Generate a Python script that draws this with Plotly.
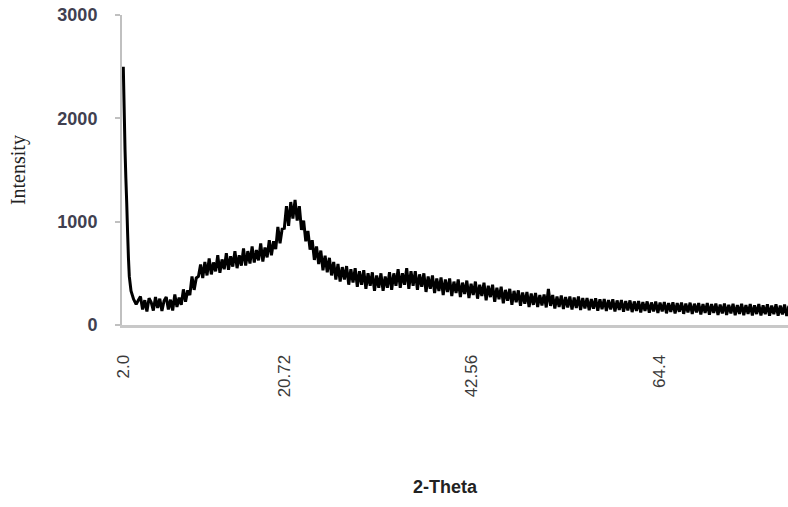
import plotly.graph_objects as go

# 2-Theta sample positions (degrees)
two_theta = [
    2.0, 2.1, 2.2, 2.3, 2.4, 2.5, 2.6, 2.7, 2.9, 3.2, 3.5, 3.75,
    4.0, 4.25, 4.5, 4.75, 5.0, 5.25, 5.5, 5.75,
    6.0, 6.25, 6.5, 6.75, 7.0, 7.25, 7.5, 7.75,
    8.0, 8.25, 8.5, 8.75, 9.0, 9.25, 9.5, 9.75,
    10.0, 10.25, 10.5, 10.75, 11.0, 11.25, 11.5, 11.75,
    12.0, 12.25, 12.5, 12.75, 13.0, 13.25, 13.5, 13.75,
    14.0, 14.25, 14.5, 14.75, 15.0, 15.25, 15.5, 15.75,
    16.0, 16.25, 16.5, 16.75, 17.0, 17.25, 17.5, 17.75,
    18.0, 18.25, 18.5, 18.75, 19.0, 19.25, 19.5, 19.75,
    20.0, 20.25, 20.5, 20.75, 21.0, 21.25, 21.5, 21.75,
    22.0, 22.25, 22.5, 22.75, 23.0, 23.25, 23.5, 23.75,
    24.0, 24.25, 24.5, 24.75, 25.0, 25.25, 25.5, 25.75,
    26.0, 26.25, 26.5, 26.75, 27.0, 27.25, 27.5, 27.75,
    28.0, 28.25, 28.5, 28.75, 29.0, 29.25, 29.5, 29.75,
    30.0, 30.25, 30.5, 30.75, 31.0, 31.25, 31.5, 31.75,
    32.0, 32.25, 32.5, 32.75, 33.0, 33.25, 33.5, 33.75,
    34.0, 34.25, 34.5, 34.75, 35.0, 35.25, 35.5, 35.75,
    36.0, 36.25, 36.5, 36.75, 37.0, 37.25, 37.5, 37.75,
    38.0, 38.25, 38.5, 38.75, 39.0, 39.25, 39.5, 39.75,
    40.0, 40.25, 40.5, 40.75, 41.0, 41.25, 41.5, 41.75,
    42.0, 42.25, 42.5, 42.75, 43.0, 43.25, 43.5, 43.75,
    44.0, 44.25, 44.5, 44.75, 45.0, 45.25, 45.5, 45.75,
    46.0, 46.25, 46.5, 46.75, 47.0, 47.25, 47.5, 47.75,
    48.0, 48.25, 48.5, 48.75, 49.0, 49.25, 49.5, 49.75,
    50.0, 50.25, 50.5, 50.75, 51.0, 51.25, 51.5, 51.75,
    52.0, 52.25, 52.5, 52.75, 53.0, 53.25, 53.5, 53.75,
    54.0, 54.25, 54.5, 54.75, 55.0, 55.25, 55.5, 55.75,
    56.0, 56.25, 56.5, 56.75, 57.0, 57.25, 57.5, 57.75,
    58.0, 58.25, 58.5, 58.75, 59.0, 59.25, 59.5, 59.75,
    60.0, 60.25, 60.5, 60.75, 61.0, 61.25, 61.5, 61.75,
    62.0, 62.25, 62.5, 62.75, 63.0, 63.25, 63.5, 63.75,
    64.0, 64.25, 64.5, 64.75, 65.0, 65.25, 65.5, 65.75,
    66.0, 66.25, 66.5, 66.75, 67.0, 67.25, 67.5, 67.75,
    68.0, 68.25, 68.5, 68.75, 69.0, 69.25, 69.5, 69.75,
    70.0, 70.25, 70.5, 70.75, 71.0, 71.25, 71.5, 71.75,
    72.0, 72.25, 72.5, 72.75, 73.0, 73.25, 73.5, 73.75,
    74.0, 74.25, 74.5, 74.75, 75.0, 75.25, 75.5, 75.75,
    76.0, 76.25, 76.5, 76.75, 77.0, 77.25, 77.5, 77.75,
    78.0, 78.25, 78.5, 78.75, 79.0, 79.25, 79.5,
]

# Intensity
intensity = [
    2500, 2100, 1700, 1420, 1180, 900, 650, 470, 330, 250, 200, 240,
    275, 150, 240, 130, 260, 220, 140, 270,
    165, 255, 135, 235, 270, 150, 245, 140,
    295, 175, 265, 195, 345, 225, 335, 290,
    470, 340, 455, 470, 585, 455, 610, 480,
    645, 490, 605, 520, 675, 505, 635, 540,
    695, 535, 665, 565, 715, 550, 675, 575,
    740, 575, 715, 595, 760, 605, 725, 625,
    790, 615, 750, 655, 820, 675, 810, 735,
    950, 790, 930, 935, 1150, 960, 1190, 1030,
    1210, 1010, 1150, 920, 1010, 810, 910, 730,
    820, 630, 760, 590, 720, 530, 670, 510,
    650, 480, 610, 440, 590, 420, 560, 440,
    570, 390, 540, 410, 550, 370, 520, 390,
    530, 350, 500, 380, 510, 330, 480, 360,
    500, 330, 470, 360, 510, 340, 500, 380,
    540, 360, 500, 390, 550, 350, 520, 380,
    520, 340, 490, 370, 500, 320, 470, 350,
    480, 310, 450, 330, 460, 290, 440, 320,
    450, 280, 420, 310, 440, 270, 410, 300,
    430, 260, 400, 290, 420, 255, 390, 280,
    410, 240, 380, 270, 390, 225, 360, 250,
    370, 210, 340, 235, 350, 195, 330, 220,
    335, 185, 315, 205, 320, 175, 305, 195,
    310, 175, 290, 190, 295, 170, 350, 185,
    290, 160, 275, 175, 285, 155, 270, 170,
    275, 150, 265, 165, 275, 145, 260, 160,
    262, 142, 252, 158, 258, 138, 248, 153,
    252, 135, 242, 150, 248, 130, 238, 145,
    242, 128, 232, 142, 238, 125, 228, 137,
    232, 122, 222, 137, 228, 118, 218, 132,
    226, 116, 216, 132, 222, 113, 212, 127,
    220, 112, 212, 128, 217, 108, 207, 122,
    216, 106, 206, 122, 212, 102, 202, 118,
    212, 100, 202, 117, 208, 98, 198, 112,
    207, 98, 196, 112, 206, 95, 193, 108,
    205, 95, 193, 108, 202, 92, 190, 106,
    202, 92, 190, 105, 200, 90, 188, 104,
    200, 90, 188, 102, 198, 88, 185,
]

x_tick_vals = [2.0, 20.72, 42.56, 64.4]
x_tick_text = ["2.0", "20.72", "42.56", "64.4"]
y_tick_vals = [0, 1000, 2000, 3000]
y_tick_text = ["0", "1000", "2000", "3000"]

fig = go.Figure()
fig.add_trace(go.Scatter(
    x=two_theta, y=intensity, mode="lines",
    line=dict(color="black", width=3, simplify=False),
    showlegend=False, hoverinfo="skip",
))

fig.update_layout(
    width=788, height=507,
    margin=dict(l=122, r=0, t=15, b=182),
    paper_bgcolor="white", plot_bgcolor="white",
    xaxis=dict(
        range=[1.85, 79.4],
        showgrid=False, zeroline=False,
        showline=True, linecolor="#c8c8c8", linewidth=3,
        tickmode="array", tickvals=x_tick_vals, ticktext=x_tick_text,
        tickangle=-90, ticks="",
        ticklabelstandoff=20,
        tickfont=dict(family="Liberation Sans", size=17, color="#3a3a3a"),
    ),
    yaxis=dict(
        range=[0, 3000],
        showgrid=False, zeroline=False,
        showline=True, linecolor="#c0c0c0", linewidth=2,
        tickmode="array", tickvals=y_tick_vals, ticktext=y_tick_text,
        ticks="outside", ticklen=5, tickcolor="#c0c0c0", tickwidth=2,
        ticklabelstandoff=14,
        tickfont=dict(family="Liberation Sans", size=18, color="#404050", weight="bold"),
    ),
    annotations=[
        dict(text="Intensity", xref="paper", yref="paper",
             x=-0.156, y=0.5, xanchor="center", yanchor="middle",
             textangle=-90, showarrow=False,
             font=dict(family="Liberation Serif", size=20, color="#222222")),
        dict(text="<b>2-Theta</b>", xref="paper", yref="paper",
             x=0.485, y=-0.5226, xanchor="center", yanchor="middle",
             showarrow=False,
             font=dict(family="Liberation Sans", size=18, color="#222222")),
    ],
)

fig.write_html("out.html")
